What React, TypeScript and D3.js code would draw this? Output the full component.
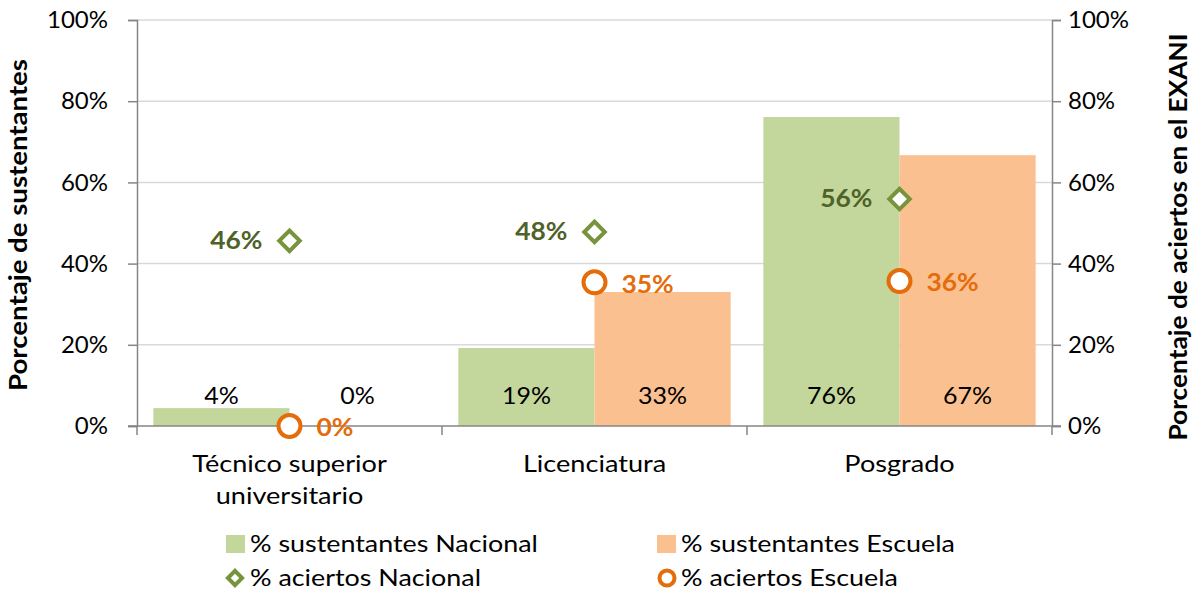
import React, { useEffect, useRef } from 'react';
import * as d3 from 'd3';

const categories = ['Técnico superior universitario', 'Licenciatura', 'Posgrado'];
const categoryLines = [['Técnico superior', 'universitario'], ['Licenciatura'], ['Posgrado']];
const sustentantesNacional = [4.4, 19.2, 76.1];
const sustentantesEscuela = [0, 33.0, 66.7];
const aciertosNacional = [45.6, 47.8, 55.9];
const aciertosEscuela = [0, 35.4, 35.7];
const yTicks = [0, 20, 40, 60, 80, 100];

const GREEN_BAR = '#c3d69b';
const ORANGE_BAR = '#fac090';
const GREEN_MARK = '#77933c';
const GREEN_TEXT = '#4f6228';
const ORANGE_MARK = '#e46c0a';
const FONT = 'Lato, "Noto Sans", sans-serif';
const FS = 24;
const WORD_SX = 1.13;

type Sel = d3.Selection<any, any, any, any>;

// text placed at (x,y), stretched horizontally like the Calibri original
function label(parent: Sel, x: number, y: number, txt: string, sx: number, anchor = 'start') {
  return parent
    .append('text')
    .attr('transform', `translate(${x},${y}) scale(${sx},1)`)
    .attr('text-anchor', anchor)
    .attr('font-size', FS)
    .attr('fill', '#000')
    .text(txt);
}

const App: React.FC = () => {
  const ref = useRef<SVGSVGElement>(null);

  useEffect(() => {
    const W = 1197;
    const H = 595;
    const margin = { top: 20, right: 145, bottom: 169, left: 137 };
    const width = W - margin.left - margin.right;
    const height = H - margin.top - margin.bottom;

    const root = d3.select(ref.current);
    root.selectAll('*').remove();
    root.attr('width', W).attr('height', H).style('font-family', FONT);

    const g = root.append('g').attr('transform', `translate(${margin.left},${margin.top})`);

    const x = d3.scaleBand().domain(categories).range([0, width]).paddingInner(0).paddingOuter(0);
    const inner = d3.scaleBand().domain(['n', 'e']).range([0, x.bandwidth()]).paddingOuter(0.12).paddingInner(0);
    const y = d3.scaleLinear().domain([0, 100]).range([height, 0]);
    const y2 = d3.scaleLinear().domain([0, 100]).range([height, 0]);

    // gridlines
    g.append('g')
      .selectAll('line')
      .data(yTicks.filter((t) => t > 0))
      .enter()
      .append('line')
      .attr('x1', 0)
      .attr('x2', width)
      .attr('y1', (d) => y(d))
      .attr('y2', (d) => y(d))
      .attr('stroke', '#d9d9d9')
      .attr('stroke-width', 1.5);

    // bars
    const series = [
      { key: 'n', values: sustentantesNacional, color: GREEN_BAR },
      { key: 'e', values: sustentantesEscuela, color: ORANGE_BAR },
    ];
    series.forEach((s) => {
      g.append('g')
        .selectAll('rect')
        .data(s.values)
        .enter()
        .append('rect')
        .attr('x', (_, i) => x(categories[i])! + inner(s.key)!)
        .attr('y', (d) => y(d))
        .attr('width', inner.bandwidth())
        .attr('height', (d) => height - y(d))
        .attr('fill', s.color);

      const lg = g.append('g');
      s.values.forEach((d, i) => {
        label(lg, x(categories[i])! + inner(s.key)! + inner.bandwidth() / 2, height - 30, `${Math.round(d)}%`, 1.04, 'middle')
          .attr('dy', '0.35em');
      });
    });

    // axes
    const axisColor = '#868686';
    const left = g.append('g').call(d3.axisLeft(y).tickValues(yTicks).tickSize(9).tickFormat((d) => `${d}%`));
    const right = g
      .append('g')
      .attr('transform', `translate(${width},0)`)
      .call(d3.axisRight(y2).tickValues(yTicks).tickSize(9).tickFormat((d) => `${d}%`));
    [left, right].forEach((a) => {
      a.select('.domain').attr('stroke', axisColor).attr('stroke-width', 1.5);
      a.selectAll('.tick line').attr('stroke', axisColor).attr('stroke-width', 1.5);
      a.selectAll('.tick text').attr('font-size', FS).attr('font-family', FONT).attr('fill', '#000');
    });
    left.selectAll('.tick text').attr('x', -29);
    right.selectAll('.tick text').attr('x', 16);

    const bottom = g.append('g').attr('transform', `translate(0,${height})`);
    bottom
      .append('line')
      .attr('x1', -9)
      .attr('x2', width + 9)
      .attr('stroke', axisColor)
      .attr('stroke-width', 1.5);
    bottom
      .selectAll('line.cat')
      .data(d3.range(categories.length + 1))
      .enter()
      .append('line')
      .attr('class', 'cat')
      .attr('x1', (i) => (i * width) / categories.length)
      .attr('x2', (i) => (i * width) / categories.length)
      .attr('y1', 0)
      .attr('y2', 9)
      .attr('stroke', axisColor)
      .attr('stroke-width', 1.5);

    categoryLines.forEach((lines, i) => {
      lines.forEach((ln, j) => {
        label(bottom, x(categories[i])! + x.bandwidth() / 2, 46 + j * 32, ln, WORD_SX, 'middle');
      });
    });

    // markers
    const cx = (i: number) => x(categories[i])! + x.bandwidth() / 2;
    const diamond = d3.symbol().type(d3.symbolSquare).size(210);

    g.append('g')
      .selectAll('path')
      .data(aciertosNacional)
      .enter()
      .append('path')
      .attr('d', diamond as any)
      .attr('transform', (d, i) => `translate(${cx(i)},${y2(d)}) rotate(45)`)
      .attr('fill', '#fff')
      .attr('stroke', GREEN_MARK)
      .attr('stroke-width', 4);

    const nl = g.append('g');
    aciertosNacional.forEach((d, i) => {
      label(nl, cx(i) - 27, y2(d), `${Math.round(d)}%`, 1.1, 'end')
        .attr('dy', '0.35em')
        .attr('font-weight', 'bold')
        .attr('fill', GREEN_TEXT);
    });

    g.append('g')
      .selectAll('circle')
      .data(aciertosEscuela)
      .enter()
      .append('circle')
      .attr('cx', (_, i) => cx(i))
      .attr('cy', (d) => y2(d))
      .attr('r', 11)
      .attr('fill', '#fff')
      .attr('stroke', ORANGE_MARK)
      .attr('stroke-width', 4);

    const el = g.append('g');
    aciertosEscuela.forEach((d, i) => {
      label(el, cx(i) + 27, y2(d) + 2, `${Math.round(d)}%`, 1.1, 'start')
        .attr('dy', '0.35em')
        .attr('font-weight', 'bold')
        .attr('fill', ORANGE_MARK);
    });

    // axis titles
    root
      .append('text')
      .attr('transform', `translate(27,225) rotate(-90) scale(1.15,1)`)
      .attr('text-anchor', 'middle')
      .attr('font-size', FS)
      .attr('font-weight', 'bold')
      .text('Porcentaje de sustentantes');
    root
      .append('text')
      .attr('transform', `translate(1187,237) rotate(-90) scale(1.095,1)`)
      .attr('text-anchor', 'middle')
      .attr('font-size', FS)
      .attr('font-weight', 'bold')
      .text('Porcentaje de aciertos en el EXANI');

    // legend
    const legend = root.append('g');
    const items = [
      { label: '% sustentantes Nacional', type: 'rect', color: GREEN_BAR, x: 226, y: 544 },
      { label: '% sustentantes Escuela', type: 'rect', color: ORANGE_BAR, x: 657, y: 544 },
      { label: '% aciertos Nacional', type: 'diamond', color: GREEN_MARK, x: 226, y: 578 },
      { label: '% aciertos Escuela', type: 'circle', color: ORANGE_MARK, x: 657, y: 578 },
    ];
    items.forEach((it) => {
      if (it.type === 'rect') {
        legend
          .append('rect')
          .attr('x', it.x)
          .attr('y', it.y - 9)
          .attr('width', 19)
          .attr('height', 18)
          .attr('fill', it.color);
      } else if (it.type === 'diamond') {
        legend
          .append('path')
          .attr('d', d3.symbol().type(d3.symbolSquare).size(100)() as string)
          .attr('transform', `translate(${it.x + 9},${it.y}) rotate(45)`)
          .attr('fill', '#fff')
          .attr('stroke', it.color)
          .attr('stroke-width', 4);
      } else {
        legend
          .append('circle')
          .attr('cx', it.x + 10)
          .attr('cy', it.y)
          .attr('r', 7.5)
          .attr('fill', '#fff')
          .attr('stroke', it.color)
          .attr('stroke-width', 4);
      }
      label(legend, it.x + 24, it.y, it.label, 1.12).attr('dy', '0.35em');
    });
  }, []);

  return <svg ref={ref} style={{ display: 'block', position: 'absolute', left: 0, top: 0 }}></svg>;
};

export default App;
